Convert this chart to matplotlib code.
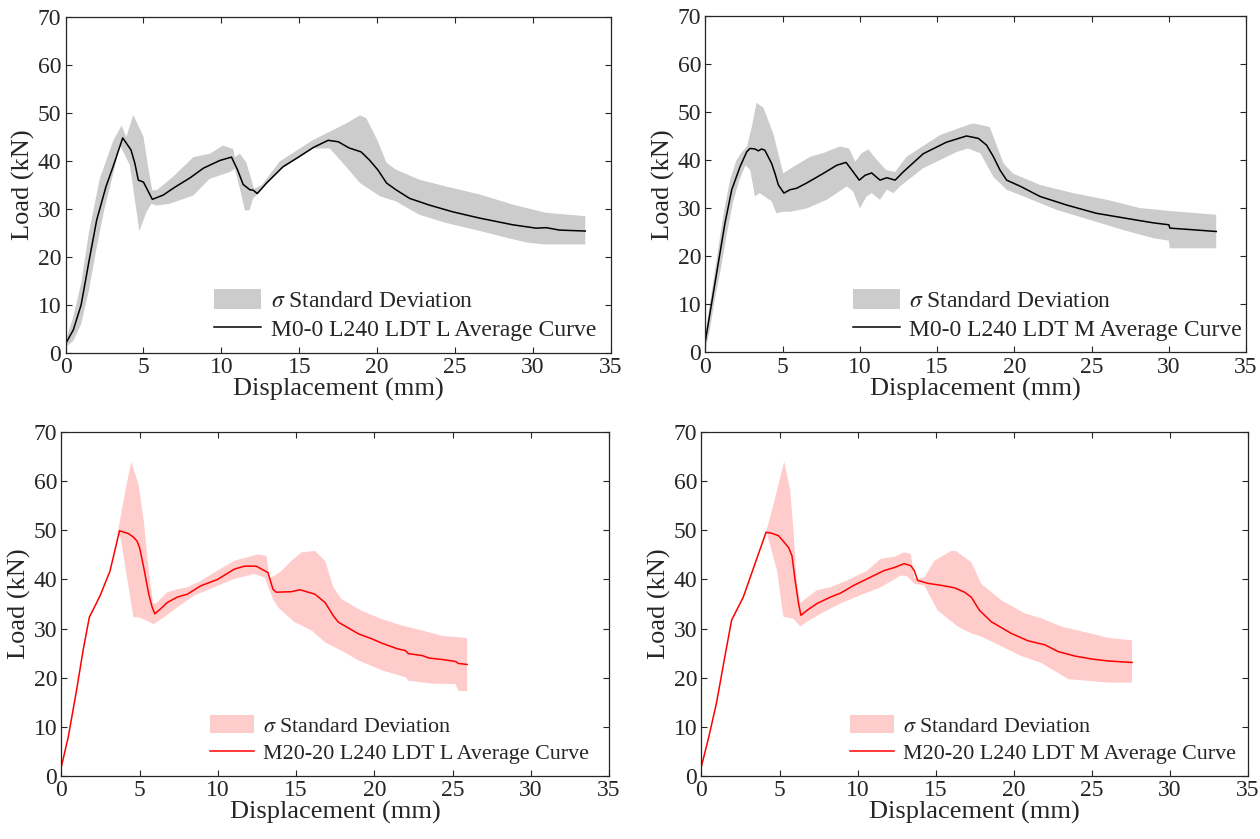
import numpy as np
import matplotlib
matplotlib.use("Agg")
import matplotlib.pyplot as plt
from matplotlib.patches import Patch
from matplotlib.lines import Line2D

plt.rcParams["font.family"] = ["Liberation Serif", "DejaVu Serif"]
plt.rcParams["mathtext.fontset"] = "stix"

# ---------------- M0-0 L240 LDT L ----------------
tl_x = [0, 0.5, 1.0, 1.5, 2.0, 2.6, 3.05, 3.67, 4.2, 4.45, 4.67, 5.0, 5.57, 6.27, 7.0, 8.0,
        8.85, 9.9, 10.65, 11.03, 11.4, 11.83, 12.05, 12.3, 12.9, 13.96, 14.9, 15.9, 16.85,
        17.5, 18.2, 18.96, 19.5, 20.05, 20.6, 21.2, 22.08, 23.35, 24.85, 26.56, 28.7, 30.2,
        30.84, 31.7, 33.35]
tl_y = [1.9, 4.8, 10.0, 19.0, 27.7, 34.7, 38.8, 44.8, 42.3, 39.5, 36.0, 35.6, 32.0, 32.9,
        34.5, 36.5, 38.5, 40.1, 40.8, 38.2, 35.1, 34.0, 33.9, 33.2, 35.4, 38.8, 40.7, 42.8,
        44.3, 44.0, 42.7, 41.9, 40.2, 38.1, 35.4, 34.0, 32.2, 30.8, 29.4, 28.1, 26.7, 26.0,
        26.1, 25.6, 25.4]
tl_up_x = [0, 0.5, 1.0, 1.5, 2.2, 3.07, 3.6, 3.9, 4.35, 5.0, 5.3, 5.57, 5.85, 6.9, 8.2, 9.26,
           10.1, 10.76, 10.87, 11.19, 11.6, 12.1, 12.6, 13.75, 15.9, 16.96, 18.0, 18.9, 19.3,
           20.0, 20.6, 21.2, 22.7, 24.4, 26.6, 28.7, 30.84, 33.35]
tl_up_y = [2.5, 7.5, 14.5, 25.0, 36.3, 44.3, 47.4, 45.0, 49.6, 45.1, 38.8, 33.9, 33.9, 36.7,
           40.8, 41.5, 43.2, 42.5, 40.8, 41.5, 39.7, 34.2, 35.0, 39.9, 44.4, 46.1, 47.8, 49.5,
           48.9, 44.4, 39.6, 38.2, 36.1, 34.7, 33.0, 30.9, 29.2, 28.5]
tl_lo_x = [0, 0.5, 1.0, 1.5, 2.0, 2.5, 3.0, 3.5, 4.13, 4.74, 5.2, 5.52, 5.85, 6.7, 8.2, 9.26,
           10.55, 10.87, 11.19, 11.51, 11.8, 12.04, 12.46, 13.75, 15.9, 16.96, 18.0, 18.9,
           20.2, 21.2, 22.7, 24.4, 26.6, 28.3, 29.6, 30.8, 33.35]
tl_lo_y = [1.2, 2.5, 6.0, 13.0, 22.0, 30.0, 36.5, 43.3, 39.1, 25.4, 29.4, 31.1, 30.7, 31.1,
           32.8, 36.3, 37.7, 38.4, 34.2, 29.7, 29.7, 32.2, 33.6, 38.1, 42.6, 42.6, 38.8, 35.4,
           32.6, 31.6, 28.8, 27.1, 25.4, 24.0, 23.0, 22.6, 22.6]

# ---------------- M0-0 L240 LDT M ----------------
tr_x = [0, 0.4, 0.83, 1.26, 1.7, 2.24, 2.67, 2.88, 3.2, 3.42, 3.64, 3.85, 4.28, 4.5, 4.72,
        5.08, 5.47, 5.9, 6.55, 7.63, 8.5, 9.1, 9.57, 9.96, 10.33, 10.76, 11.3, 11.74, 12.28,
        12.8, 14.1, 15.6, 16.9, 17.67, 18.2, 18.64, 19.07, 19.5, 20.4, 21.66, 23.4, 25.3,
        27.5, 29.0, 30.0, 30.07, 31.4, 33.07]
tr_y = [2.5, 10.3, 18.6, 26.9, 33.9, 38.7, 41.8, 42.5, 42.4, 42.0, 42.4, 42.1, 39.4, 37.3,
        34.9, 33.2, 33.9, 34.2, 35.3, 37.3, 39.0, 39.6, 37.6, 35.9, 36.9, 37.4, 35.9, 36.4,
        35.9, 37.6, 41.4, 43.8, 45.1, 44.6, 43.2, 40.8, 38.0, 35.9, 34.6, 32.5, 30.7, 29.0,
        27.8, 27.0, 26.6, 25.9, 25.6, 25.2]
tr_up_x = [0, 0.4, 0.8, 1.2, 1.6, 2.0, 2.3, 2.7, 3.0, 3.3, 3.75, 4.39, 5.04, 5.7, 6.8, 7.6,
           8.7, 9.3, 9.7, 10.1, 10.55, 11.1, 11.7, 12.28, 13.03, 15.2, 17.0, 17.35, 18.4,
           19.3, 19.9, 21.66, 23.8, 26.0, 28.1, 30.3, 33.07]
tr_up_y = [4.0, 12.5, 21.0, 29.5, 36.0, 40.0, 41.5, 43.0, 47.0, 52.0, 51.0, 45.6, 37.3,
           38.7, 40.8, 41.5, 42.9, 42.5, 39.7, 41.5, 42.3, 40.1, 38.0, 37.6, 40.8, 45.3, 47.4,
           47.7, 47.0, 39.4, 37.3, 34.9, 33.2, 31.8, 30.1, 29.4, 28.7]
tr_lo_x = [0, 0.3, 0.6, 1.0, 1.4, 1.8, 2.2, 2.6, 2.9, 3.2, 3.5, 4.28, 4.6, 5.0, 5.47, 6.55,
           7.85, 9.15, 9.57, 10.0, 10.43, 10.76, 11.3, 11.74, 12.17, 12.6, 14.1, 16.3, 17.0,
           17.8, 18.64, 19.5, 20.6, 22.75, 24.9, 27.06, 29.0, 30.0, 30.07, 33.07]
tr_lo_y = [0.5, 5.0, 11.0, 17.5, 25.0, 31.5, 36.0, 39.0, 38.0, 32.5, 33.2, 31.5, 29.0, 29.3,
           29.3, 30.0, 31.8, 34.6, 33.5, 30.0, 32.5, 33.2, 31.8, 33.9, 33.2, 34.6, 38.4, 41.8,
           42.5, 41.5, 36.6, 33.9, 32.5, 29.7, 27.6, 25.5, 23.8, 23.3, 21.7, 21.7]

# ---------------- M20-20 L240 LDT L ----------------
bl_x = [0, 0.43, 0.96, 1.4, 1.78, 2.47, 3.1, 3.71, 4.3, 4.6, 4.83, 5.0, 5.26, 5.58, 5.8,
        5.97, 6.33, 6.76, 7.4, 8.05, 8.9, 9.98, 11.05, 11.7, 12.45, 13.2, 13.52, 13.73, 14.7,
        15.24, 16.2, 16.85, 17.38, 17.7, 19.0, 19.85, 20.5, 21.46, 22.0, 22.17, 23.07, 23.5,
        24.35, 25.2, 25.37, 25.93]
bl_y = [2.0, 7.9, 17.4, 25.9, 32.3, 36.7, 41.7, 49.9, 49.3, 48.6, 47.8, 46.4, 42.4, 37.0,
        34.3, 33.0, 34.0, 35.3, 36.4, 37.0, 38.7, 40.0, 42.1, 42.7, 42.7, 41.4, 38.0, 37.4,
        37.5, 37.9, 37.0, 35.3, 32.6, 31.3, 28.9, 27.9, 27.0, 25.9, 25.5, 24.9, 24.5, 24.0,
        23.7, 23.3, 22.9, 22.7]
bl_up_x = [3.55, 3.65, 4.08, 4.46, 4.93, 5.26, 5.58, 5.86, 6.1, 6.76, 7.4, 8.05, 8.9, 9.98,
           11.05, 12.55, 13.1, 13.3, 13.6, 14.06, 14.7, 15.35, 16.2, 16.85, 17.38, 17.9,
           19.2, 20.5, 21.8, 23.07, 24.35, 25.93]
bl_up_y = [49.3, 50.5, 58.0, 63.9, 59.3, 51.9, 41.8, 35.0, 35.3, 37.4, 38.0, 38.4, 39.7,
           41.8, 43.8, 45.1, 44.8, 40.4, 40.7, 41.7, 43.8, 45.5, 45.8, 43.8, 38.4, 36.0,
           33.6, 31.9, 30.6, 29.6, 28.5, 28.1]
bl_lo_x = [3.55, 3.78, 4.6, 4.93, 5.26, 5.9, 6.55, 7.4, 8.47, 9.77, 11.05, 12.34, 12.98,
           13.52, 13.85, 14.9, 16.0, 16.85, 17.9, 19.0, 20.5, 22.0, 22.17, 23.7, 25.2, 25.37,
           25.93]
bl_lo_y = [49.3, 48.5, 32.3, 32.3, 31.9, 30.9, 32.3, 34.3, 36.7, 38.4, 40.1, 41.1, 40.4,
           36.0, 34.3, 31.3, 29.6, 27.2, 25.5, 23.5, 21.5, 20.1, 19.4, 18.8, 18.7, 17.3, 17.3]

# ---------------- M20-20 L240 LDT M ----------------
br_x = [0, 0.43, 0.96, 1.5, 1.93, 2.68, 3.43, 4.14, 4.5, 4.93, 5.21, 5.58, 5.8, 6.0, 6.22,
        6.37, 6.76, 7.4, 8.26, 8.9, 9.76, 11.05, 11.7, 12.34, 12.98, 13.41, 13.63, 13.85,
        14.5, 15.35, 16.2, 16.85, 17.28, 17.81, 18.56, 19.85, 20.92, 21.99, 22.86, 23.93,
        25.0, 26.08, 27.58]
br_y = [2.0, 7.4, 14.8, 24.3, 31.7, 36.4, 43.2, 49.6, 49.4, 48.9, 47.9, 46.5, 44.8, 39.8,
        35.1, 32.7, 33.7, 35.1, 36.4, 37.2, 38.8, 40.8, 41.8, 42.4, 43.2, 42.8, 41.8, 39.8,
        39.2, 38.8, 38.3, 37.4, 36.4, 33.7, 31.4, 29.0, 27.5, 26.7, 25.3, 24.4, 23.8, 23.4,
        23.1]
br_up_x = [4.0, 4.14, 4.72, 5.3, 5.68, 5.9, 6.1, 6.33, 6.55, 7.4, 8.26, 9.33, 10.62, 11.48,
           12.34, 12.98, 13.41, 13.63, 13.85, 14.27, 14.92, 15.99, 16.3, 17.28, 17.92, 19.2,
           20.7, 21.77, 23.05, 24.8, 26.08, 27.58]
br_up_y = [48.5, 49.6, 56.6, 64.0, 58.3, 49.9, 39.8, 35.1, 35.8, 37.8, 38.4, 39.8, 41.8,
           44.2, 44.6, 45.5, 45.2, 40.4, 40.1, 40.4, 43.8, 45.8, 45.8, 43.5, 39.1, 35.8,
           33.1, 32.1, 30.4, 29.1, 28.1, 27.6]
br_lo_x = [4.0, 4.2, 4.84, 5.25, 5.9, 6.33, 6.76, 7.62, 8.9, 10.19, 11.48, 12.77, 13.2,
           13.63, 14.27, 15.13, 16.42, 17.3, 17.92, 19.2, 20.5, 21.77, 23.5, 25.0, 26.08, 27.58]
br_lo_y = [48.5, 49.3, 41.8, 32.4, 32.0, 30.4, 31.4, 33.0, 35.1, 36.8, 38.4, 40.8, 40.6,
           39.1, 38.8, 33.7, 30.4, 29.0, 28.4, 26.4, 24.4, 23.0, 19.7, 19.3, 19.0, 19.0]

x_ticks = [0, 5, 10, 15, 20, 25, 30, 35]
y_ticks = [0, 10, 20, 30, 40, 50, 60, 70]

GRAY_BAND = "#cccccc"
PINK_BAND = "#ffcccc"

panels = [
    # (axes rect, mean, upper, lower, band colour, line colour, label, legend font size)
    ([0.0520, 0.5793, 0.4329, 0.4005], (tl_x, tl_y), (tl_up_x, tl_up_y), (tl_lo_x, tl_lo_y),
     GRAY_BAND, "black", "M0-0 L240 LDT L Average Curve", 17),
    ([0.5599, 0.5799, 0.4290, 0.4005], (tr_x, tr_y), (tr_up_x, tr_up_y), (tr_lo_x, tr_lo_y),
     GRAY_BAND, "black", "M0-0 L240 LDT M Average Curve", 17),
    ([0.0488, 0.0751, 0.4345, 0.4100], (bl_x, bl_y), (bl_up_x, bl_up_y), (bl_lo_x, bl_lo_y),
     PINK_BAND, "red", "M20-20 L240 LDT L Average Curve", 15.8),
    ([0.5567, 0.0751, 0.4337, 0.4100], (br_x, br_y), (br_up_x, br_up_y), (br_lo_x, br_lo_y),
     PINK_BAND, "red", "M20-20 L240 LDT M Average Curve", 15.8),
]

fig = plt.figure(figsize=(12.6, 8.39), dpi=100)

for rect, mean, up, lo, band_c, line_c, label, leg_fs in panels:
    ax = fig.add_axes(rect)
    # standard deviation envelope: upper edge forward, lower edge back
    poly_x = np.concatenate([up[0], lo[0][::-1]])
    poly_y = np.concatenate([up[1], lo[1][::-1]])
    ax.fill(poly_x, poly_y, color=band_c, linewidth=0)
    ax.plot(mean[0], mean[1], color=line_c, linewidth=1.1)

    ax.set_xlim(0, 35)
    ax.set_ylim(0, 70)
    ax.set_xticks(x_ticks)
    ax.set_yticks(y_ticks)
    ax.tick_params(direction="in", top=True, right=True, length=4, width=0.8,
                   labelsize=17, pad=3, colors="#262626")
    for s in ax.spines.values():
        s.set_linewidth(0.9)
        s.set_color("#262626")
    ax.set_xlabel("Displacement (mm)", fontsize=19, labelpad=0, color="#262626")
    ax.set_ylabel("Load (kN)", fontsize=19, labelpad=2, color="#262626")

    handles = [Patch(facecolor=band_c, edgecolor="none"),
               Line2D([], [], color=line_c, linewidth=1.1)]
    ax.legend(handles, [r"$\sigma$ Standard Deviation", label], loc="lower left",
              bbox_to_anchor=(0.272, 0.035), frameon=False, fontsize=leg_fs,
              handlelength=2.0, handleheight=0.9, handletextpad=0.4,
              labelspacing=0.25, borderpad=0, borderaxespad=0, labelcolor="#262626")

fig.savefig("out.png", dpi=100)
